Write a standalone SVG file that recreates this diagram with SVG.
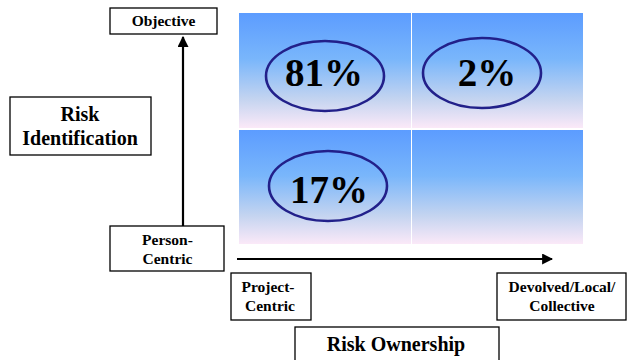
<svg xmlns="http://www.w3.org/2000/svg" width="627" height="360" viewBox="0 0 627 360">
<defs>
<linearGradient id="cellGrad" x1="0" y1="0" x2="0" y2="1">
<stop offset="0" stop-color="#5c9cff"/>
<stop offset="0.4" stop-color="#79b6fb"/>
<stop offset="0.75" stop-color="#c4d4f0"/>
<stop offset="1" stop-color="#fbe9f8"/>
</linearGradient>
<marker id="arrow" viewBox="0 0 10 10" refX="9" refY="5" markerWidth="5" markerHeight="5" orient="auto" markerUnits="strokeWidth">
<path d="M0,0 L10,5 L0,10 Z" fill="#000"/>
</marker>
</defs>
<style>
.box{fill:#fff;stroke:#000;stroke-width:1.3}
.lbl{font-weight:bold;fill:#000;text-anchor:middle}
.sm{font-size:15.5px}
.big{font-size:20px}
.pct{font-size:39px}
.cell{fill:url(#cellGrad)}
.ell{fill:none;stroke:#22208a;stroke-width:2.6}
.conn{stroke:#000;stroke-width:2.2;fill:none}
</style>
<rect width="627" height="360" fill="#fff"/>
<g id="grid">
<rect class="cell" x="239" y="13" width="172" height="115"/>
<rect class="cell" x="412" y="13" width="171" height="115"/>
<rect class="cell" x="239" y="130" width="172" height="114"/>
<rect class="cell" x="412" y="130" width="171" height="114"/>
</g>
<g font-family="Liberation Serif, serif">
<g id="q81">
<ellipse class="ell" cx="325" cy="76" rx="59" ry="35"/>
<text class="lbl pct" x="324" y="86">81%</text>
</g>
<g id="q2">
<ellipse class="ell" cx="482" cy="73" rx="59" ry="35"/>
<text class="lbl pct" x="487" y="86">2%</text>
</g>
<g id="q17">
<ellipse class="ell" cx="328" cy="186" rx="59" ry="35"/>
<text class="lbl pct" x="329" y="203">17%</text>
</g>
<g id="connectors">
<line class="conn" x1="183" y1="226" x2="183" y2="37" marker-end="url(#arrow)"/>
<line class="conn" x1="237" y1="259" x2="552" y2="259" marker-end="url(#arrow)"/>
</g>
<g id="objective">
<rect class="box" x="110" y="8" width="107" height="26"/>
<text class="lbl sm" x="163.5" y="26">Objective</text>
</g>
<g id="risk-identification">
<rect class="box" x="10" y="97" width="141" height="58"/>
<text class="lbl big" x="80" y="121">Risk</text>
<text class="lbl big" x="80" y="145">Identification</text>
</g>
<g id="person-centric">
<rect class="box" x="110" y="226" width="114" height="45"/>
<text class="lbl sm" x="167.5" y="245">Person-</text>
<text class="lbl sm" x="167.5" y="264">Centric</text>
</g>
<g id="project-centric">
<rect class="box" x="231" y="273" width="80" height="47"/>
<text class="lbl sm" x="268" y="292">Project-</text>
<text class="lbl sm" x="270" y="311">Centric</text>
</g>
<g id="devolved">
<rect class="box" x="497" y="273" width="129" height="47"/>
<text class="lbl sm" x="562" y="292">Devolved/Local/</text>
<text class="lbl sm" x="562" y="311">Collective</text>
</g>
<g id="risk-ownership">
<rect class="box" x="295" y="327" width="204" height="40"/>
<text class="lbl big" x="396" y="351">Risk Ownership</text>
</g>
</g>
</svg>
